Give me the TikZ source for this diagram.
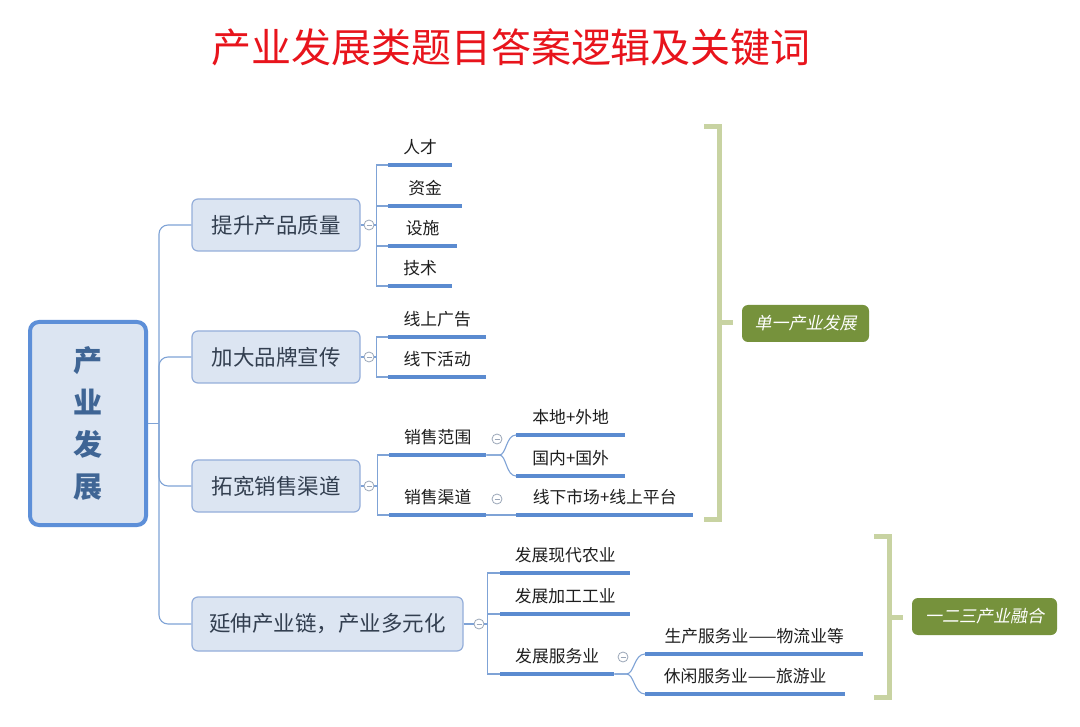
\documentclass[tikz,border=0pt]{standalone}
\usepackage{fontspec}
\setmainfont{Noto Sans CJK SC}
\newfontfamily\cjkit{Noto Sans CJK SC}[FakeSlant=0.2]
\definecolor{lineblue}{HTML}{5B8BD0}
\definecolor{thinblue}{HTML}{7FA3D6}
\definecolor{boxfill}{HTML}{DCE5F2}
\definecolor{boxdraw}{HTML}{94AEDA}
\definecolor{rootdraw}{HTML}{5D8FD8}
\definecolor{roottext}{HTML}{3F6595}
\definecolor{brkc}{HTML}{C8D3A2}
\definecolor{grn}{HTML}{76923C}
\definecolor{ttl}{HTML}{E8141C}
\definecolor{circc}{HTML}{9AA6B8}
\definecolor{leaftext}{HTML}{1E1E1E}
\definecolor{branchtext}{HTML}{333F50}
\newcommand{\mkleaf}[5]{%
  \node[leaf, minimum width=#4pt, anchor=south west] (#1) at (#2,#3) {#5};
  \draw[uline] (#1.south west) -- (#1.south east);}
\begin{document}
\begin{tikzpicture}[x=1pt,y=-1pt,
  leaf/.style={inner sep=0pt, minimum height=35pt, font=\fontsize{16.8}{17}\selectfont, text=leaftext},
  uline/.style={draw=lineblue, line width=3.4pt},
  conn/.style={draw=thinblue, line width=1.1pt},
  branchbox/.style={draw=boxdraw, fill=boxfill, line width=1.2pt, rounded corners=6pt, inner sep=0pt, minimum height=52pt, font=\fontsize{21.5}{22}\selectfont, text=branchtext},
  coll/.style={circle, draw=circc, fill=white, minimum size=10pt, inner sep=0pt, line width=0.8pt,
    path picture={\draw[circc,line width=0.8pt] ([xshift=-2.5pt]path picture bounding box.center) -- ([xshift=2.5pt]path picture bounding box.center);}},
  brk/.style={draw=brkc, line width=5pt},
  tag/.style={fill=grn, rounded corners=6pt, inner sep=0pt, minimum height=37pt, text=white, font=\cjkit\fontsize{17}{17}\selectfont}
]
\useasboundingbox (0,0) rectangle (1080,727);
\fill[white] (0,0) rectangle (1080,727);

% title
\node[text=ttl, font=\fontsize{40}{40}\selectfont, inner sep=0pt] (title) at (511,47) {产业发展类题目答案逻辑及关键词};

% root
\node[draw=rootdraw, fill=boxfill, line width=4pt, rounded corners=9pt, minimum width=116pt, minimum height=203pt, inner sep=0pt, align=center, text=roottext, font=\fontsize{29}{42}\selectfont\bfseries] (r) at (88,423.5) {产\\业\\发\\展};

% branches
\node[branchbox, minimum width=168pt] (b1) at (276,225) {提升产品质量};
\node[branchbox, minimum width=168pt] (b2) at (276,357) {加大品牌宣传};
\node[branchbox, minimum width=168pt] (b3) at (276,486) {拓宽销售渠道};
\node[branchbox, minimum width=271pt, minimum height=54pt] (b4) at (327.5,624) {延伸产业链，产业多元化};

\draw[conn] (r.east) -- ++(11,0) coordinate (j);
\foreach \b in {b1,b2,b3,b4}
  \draw[conn, rounded corners=9pt] (j) |- (\b.west);

% collapse circles
\node[coll] (c1) at (369,225) {};
\node[coll] (c2) at (369,357) {};
\node[coll] (c3) at (369,486) {};
\node[coll] (c4) at (479,624) {};
\foreach \i in {1,2,3,4}
  \draw[conn] (b\i.east) -- (c\i.west);

% branch 1 leaves
\mkleaf{l11}{388}{165}{64}{人才}
\mkleaf{l12}{388}{206}{74}{资金}
\mkleaf{l13}{388}{246}{69}{设施}
\mkleaf{l14}{388}{286}{64}{技术}
\foreach \l in {l11,l12,l13,l14}
  \draw[conn] (c1.east) -- ++(2,0) |- (\l.south west);

% branch 2 leaves
\mkleaf{l21}{388}{337}{98}{线上广告}
\mkleaf{l22}{388}{377}{98}{线下活动}
\foreach \l in {l21,l22}
  \draw[conn] (c2.east) -- ++(2,0) |- (\l.south west);

% branch 3
\mkleaf{l31}{389}{455}{97}{销售范围}
\mkleaf{l32}{389}{515}{97}{销售渠道}
\foreach \l in {l31,l32}
  \draw[conn] (c3.east) -- ++(3,0) |- (\l.south west);
\node[coll] (c31) at (497,439) {};
\node[coll] (c32) at (497,499) {};
\mkleaf{l311}{516}{435}{109}{本地+外地}
\mkleaf{l312}{516}{476}{109}{国内+国外}
\mkleaf{l321}{516}{515}{177}{线下市场+线上平台}
\draw[conn] (l31.south east) -- ++(13,0) .. controls +(7,0) and +(-10,0) .. (l311.south west);
\draw[conn] (l31.south east) -- ++(13,0) .. controls +(7,0) and +(-10,0) .. (l312.south west);
\draw[conn] (l32.south east) -- (l321.south west);

% branch 4
\mkleaf{l41}{500}{573}{130}{发展现代农业}
\mkleaf{l42}{500}{614}{130}{发展加工工业}
\mkleaf{l43}{500}{674}{114}{发展服务业}
\foreach \l in {l41,l42,l43}
  \draw[conn] (c4.east) -- ++(3,0) |- (\l.south west);
\node[coll] (c43) at (623,657) {};
\mkleaf{l431}{645}{654}{218}{生产服务业——物流业等}
\mkleaf{l432}{645}{694}{200}{休闲服务业——旅游业}
\draw[conn] (l43.south east) -- ++(12,0) .. controls +(8,0) and +(-11,0) .. (l431.south west);
\draw[conn] (l43.south east) -- ++(12,0) .. controls +(8,0) and +(-11,0) .. (l432.south west);

% brackets
\draw[brk] (704,127) -- (719,127) -- (719,519) -- (704,519);
\draw[brk] (719,323) -- (733,323);
\node[tag, minimum width=127pt] (g1) at (805.5,323.5) {单一产业发展};
\draw[brk] (874,536) -- (889,536) -- (889,697) -- (874,697);
\draw[brk] (889,617) -- (903,617);
\node[tag, minimum width=145pt] (g2) at (984.5,616.5) {一二三产业融合};
\end{tikzpicture}
\end{document}
